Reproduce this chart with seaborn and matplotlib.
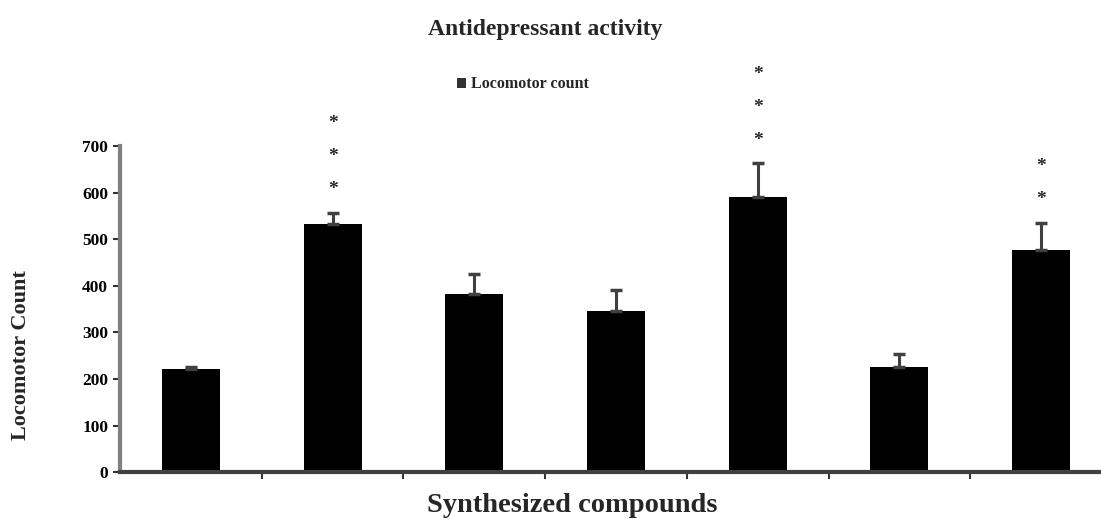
import pandas as pd
import matplotlib
matplotlib.use("Agg")
import matplotlib.pyplot as plt
import seaborn as sns

compounds = ['C1', 'C2', 'C3', 'C4', 'C5', 'C6', 'C7']
counts = [221, 532, 382, 345, 590, 225, 477]
errors = [5, 24, 43, 47, 73, 28, 58]
stars = [0, 3, 0, 0, 3, 0, 2]

df = pd.DataFrame({'compound': compounds, 'count': counts})

sns.set_style('white')
plt.rcParams['font.family'] = ['Liberation Serif', 'DejaVu Serif']
plt.rcParams['font.weight'] = 'bold'

fig = plt.figure(figsize=(11.01, 5.24), dpi=100)
ax = fig.add_axes([0.109, 0.099, 0.901, 0.622])

sns.barplot(x='compound', y='count', data=df, color='black', width=0.41,
            saturation=1, linewidth=0, label='Locomotor count', ax=ax)
ax.errorbar(range(len(counts)), counts, yerr=[[0] * len(errors), errors],
            fmt='none', ecolor='#404040', elinewidth=2.2, capsize=4, capthick=2.5)

# significance stars above the error bars
for i, n in enumerate(stars):
    for k in range(n):
        ax.text(i, counts[i] + errors[i] + 50 + 71 * k, '*', ha='center', va='center',
                fontsize=14, fontweight='bold', clip_on=False)

ax.set_xlim(-0.5, 6.5)
ax.set_ylim(0, 700)
ax.set_yticks(range(0, 701, 100))
ax.set_yticklabels([str(v) for v in range(0, 701, 100)], fontsize=12.5, fontweight='bold')
ax.set_xticks([i + 0.5 for i in range(len(compounds) - 1)])
ax.set_xticklabels([])
ax.tick_params(axis='both', direction='out', length=5, width=1.5, colors='#333333',
               labelcolor='black', bottom=True, left=True)

for s in ['top', 'right']:
    ax.spines[s].set_visible(False)
ax.spines['left'].set_color('#808080')
ax.spines['left'].set_linewidth(3)
ax.spines['bottom'].set_color('#404040')
ax.spines['bottom'].set_linewidth(3)

ax.set_xlabel('')
ax.set_ylabel('Locomotor Count', fontsize=16, fontweight='bold')
ax.yaxis.set_label_coords(-0.09, 0.36)

fig.text(0.495, 0.943, 'Antidepressant activity', ha='center', va='center',
         fontsize=17, fontweight='bold')
fig.text(0.52, 0.036, 'Synthesized compounds', ha='center', va='center',
         fontsize=20.5, fontweight='bold')

leg = ax.legend(loc='center', bbox_to_anchor=(0.406, 1.19), bbox_transform=ax.transAxes,
                frameon=False, fontsize=11.5, handlelength=0.6, handleheight=0.6,
                handletextpad=0.3)
for h in leg.legend_handles:
    h.set_color('#333333')

plt.savefig('out.png', dpi=100)
